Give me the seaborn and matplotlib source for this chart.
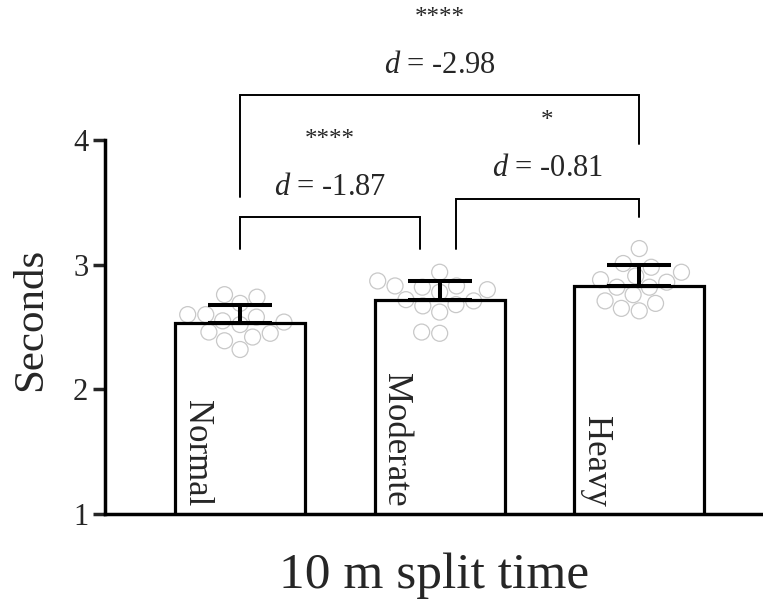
import numpy as np
import pandas as pd
import matplotlib
matplotlib.use("Agg")
import matplotlib.pyplot as plt
import seaborn as sns

# ---- data ----
groups = ["Normal", "Moderate", "Heavy"]
means = [2.53, 2.72, 2.83]
sds = [0.15, 0.15, 0.17]

normal_vals = [2.76, 2.69, 2.74, 2.60, 2.55, 2.60, 2.58, 2.54, 2.45, 2.46, 2.52, 2.39, 2.42, 2.32]
moderate_vals = [2.83, 2.82, 2.78, 2.94, 2.80, 2.83, 2.87, 2.68, 2.62, 2.67, 2.71, 2.72, 2.45, 2.46]
heavy_vals = [3.13, 2.98, 3.01, 2.94, 2.88, 2.91, 2.86, 2.82, 2.82, 2.76, 2.71, 2.69, 2.63, 2.65]

comp_stars = ["****", "*", "****"]
comp_d = ["-1.87", "-0.81", "-2.98"]

y_ticks = [1, 2, 3, 4]

# ---- style ----
sns.set_style("white")
plt.rcParams["font.family"] = ["Liberation Serif", "DejaVu Serif"]
plt.rcParams["mathtext.fontset"] = "custom"
plt.rcParams["mathtext.rm"] = "Liberation Serif"
plt.rcParams["mathtext.it"] = "Liberation Serif:italic"

points = pd.DataFrame({
    "group": ["Normal"] * len(normal_vals) + ["Moderate"] * len(moderate_vals) + ["Heavy"] * len(heavy_vals),
    "value": normal_vals + moderate_vals + heavy_vals,
})

fig = plt.figure(figsize=(7.63, 6.03), dpi=100)
ax = fig.add_axes([0.1376, 0.1476, 0.8624, 0.620])

# individual points
sns.swarmplot(data=points, x="group", y="value", order=groups, size=11.5,
              color="white", ax=ax, zorder=2)
for coll in ax.collections:
    coll.set_facecolor("none")
    coll.set_edgecolor("#c8c8c8")
    coll.set_linewidth(0.9)

# bars (outline only)
sns.barplot(x=groups, y=means, order=groups, fill=False, color="black",
            linewidth=2.3, width=0.65, errorbar=None, ax=ax)
for p in ax.patches:
    p.set_zorder(3)

# upper-only SD error bars
ax.errorbar(range(len(groups)), means, yerr=[[0] * len(sds), sds], fmt="none",
            ecolor="black", elinewidth=2.9, capsize=23, capthick=2.9, zorder=4)

# group names inside bars
for i, g in enumerate(groups):
    ax.text(i - 0.22, 1.06, g, rotation=270, rotation_mode="anchor",
            ha="right", va="center", fontsize=25, zorder=5)

# significance brackets
brackets = [
    # x1, x2, top, left leg bottom, right leg bottom, text x, stars y, d y
    (0.0, 0.90, 3.38, 3.125, 3.125, 0.45, 4.00, 3.62),
    (1.08, 2.0, 3.53, 3.125, 3.38, 1.54, 4.15, 3.775),
    (0.0, 2.0, 4.36, 3.54, 3.97, 1.0, 4.98, 4.60),
]
for (x1, x2, top, lb, rb, tx, sy, dy), st, d in zip(brackets, comp_stars, comp_d):
    ax.plot([x1, x1, x2, x2], [lb, top, top, rb], color="black", lw=1.4,
            clip_on=False, solid_joinstyle="miter")
    ax.text(tx, sy, st, ha="center", va="center", fontsize=18)
    ax.text(tx, dy, "$d$ = " + d, ha="center", va="center", fontsize=22)

ax.set_ylim(1, 4)
ax.set_xlim(-0.677, 2.62)
ax.set_yticks(y_ticks)
ax.set_yticklabels([str(t) for t in y_ticks], fontsize=22)
ax.set_xticks([])
ax.tick_params(axis="y", direction="out", length=9, width=2.5, pad=3, left=True)

for side in ["top", "right"]:
    ax.spines[side].set_visible(False)
for side in ["left", "bottom"]:
    ax.spines[side].set_linewidth(2.5)
    ax.spines[side].set_color("black")

ax.set_ylabel("Seconds", fontsize=31)
ax.yaxis.set_label_coords(-0.084, 0.52)
ax.set_xlabel("10 m split time", fontsize=37, labelpad=28)

fig.savefig("out.png", dpi=100)
